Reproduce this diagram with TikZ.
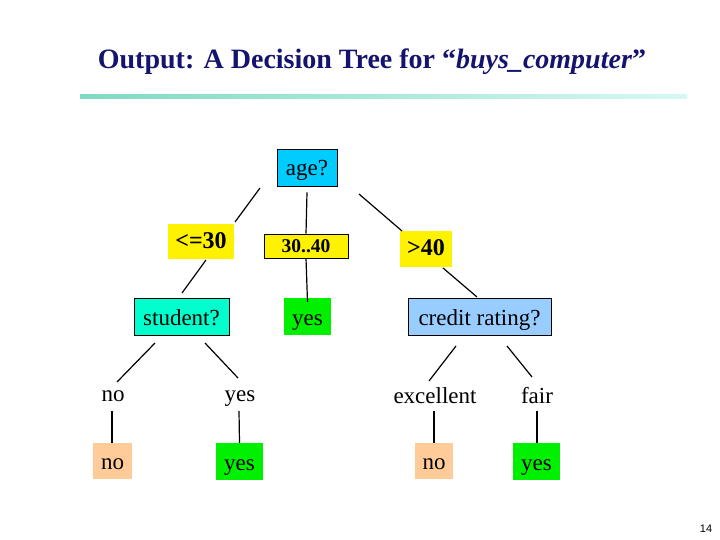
\documentclass[tikz,border=0pt]{standalone}
\usepackage{fontspec}
\setmainfont{Liberation Serif}
\setsansfont{Liberation Sans}
\usetikzlibrary{calc}
\definecolor{titleblue}{RGB}{20,20,110}
\definecolor{ageblue}{RGB}{0,204,255}
\definecolor{studgreen}{RGB}{0,255,204}
\definecolor{leafgreen}{RGB}{0,240,0}
\definecolor{creditblue}{RGB}{153,204,255}
\definecolor{peach}{RGB}{255,204,153}
\definecolor{ruleleft}{RGB}{125,218,195}
\definecolor{ruleright}{RGB}{215,248,245}
\tikzset{
  txt/.style={inner sep=0pt, text height=18pt, text depth=1pt, font=\fontsize{23}{26}\selectfont},
  box/.style={txt, draw=black, line width=0.9pt},
  flatbox/.style={txt},
  cond/.style={fill=yellow, inner sep=0pt, text height=16pt, text depth=3pt, font=\fontsize{24}{27}\selectfont\bfseries},
  lbl/.style={txt},
  conn/.style={line width=1.2pt, black}
}
\begin{document}
\begin{tikzpicture}[x=1pt,y=-1pt]
\useasboundingbox (0,0) rectangle (720,540);
\fill[white] (0,0) rectangle (720,540);
% title
\node[text=titleblue, font=\fontsize{28}{32}\selectfont\bfseries, inner sep=0pt] (title) at (372,62) {Output: A Decision Tree for “\textit{buys\_computer}”};
\shade[left color=ruleleft, right color=ruleright] (80,95) rectangle (687,99);
% nodes
\node[box, fill=ageblue, minimum width=60pt, minimum height=37pt] (age) at (307,167.5) {age?};
\node[cond, minimum width=66pt, minimum height=35pt] (le30) at (201,241.5) {<=30};
\node[cond, draw=black, line width=0.9pt, font=\fontsize{19.5}{22}\selectfont\bfseries, text height=14pt, text depth=2pt, minimum width=84pt, minimum height=24pt] (mid) at (306,246) {30..40};
\node[cond, minimum width=52pt, minimum height=36pt] (gt40) at (426,249) {>40};
\node[box, fill=studgreen, minimum width=95pt, minimum height=37pt] (student) at (181.5,316.5) {student?};
\node[flatbox, fill=leafgreen, minimum width=47pt, minimum height=37pt] (yesmid) at (307.5,316.5) {yes};
\node[box, fill=creditblue, minimum width=143pt, minimum height=37pt] (credit) at (479.5,316.5) {credit rating?};
\node[lbl] (no1) at (113,392.5) {no};
\node[lbl] (yes1) at (240,392.5) {yes};
\node[lbl] (exc) at (435,394.5) {excellent};
\node[lbl] (fair) at (537,394.5) {fair};
\node[flatbox, fill=peach, minimum width=39pt, minimum height=36pt] (leafno1) at (112.5,461) {no};
\node[flatbox, fill=leafgreen, minimum width=47pt, minimum height=37pt] (leafyes1) at (239.5,461.5) {yes};
\node[flatbox, fill=peach, minimum width=38pt, minimum height=36pt] (leafno2) at (434,461) {no};
\node[flatbox, fill=leafgreen, minimum width=47pt, minimum height=37pt] (leafyes2) at (536.5,461.5) {yes};
\node[font=\sffamily\fontsize{11}{13}\selectfont, inner sep=0pt] (pnum) at (706,529) {14};
% connectors
\draw[conn] ($(age)+(-47,20.5)$) -- ($(le30)+(34,-19.5)$);
\draw[conn] ($(age.south)+(0,6)$) -- (mid.north);
\draw[conn] ($(age)+(52,26.5)$) -- ($(gt40)+(-24,-18)$);
\draw[conn] ($(le30)+(5,18.5)$) -- ($(student)+(0.5,-23.5)$);
\draw[conn] (mid.south) -- ($(yesmid.north)+(0,4)$);
\draw[conn] ($(gt40)+(17,19)$) -- ($(credit)+(-2.5,-19.5)$);
\draw[conn] ($(student)+(-26.5,26.5)$) -- ($(no1)+(4,-10.5)$);
\draw[conn] ($(student)+(23.5,26.5)$) -- ($(yes1)+(-2,-14.5)$);
\draw[conn] ($(leafno1.north)+(-0.5,-32)$) -- ($(leafno1.north)+(-0.5,0)$);
\draw[conn] ($(leafyes1.north)+(-0.5,-32)$) -- (leafyes1.north);
\draw[conn] ($(credit)+(-23.5,29.5)$) -- ($(exc)+(-6,-13.5)$);
\draw[conn] ($(credit)+(27.5,29.5)$) -- ($(fair)+(-5,-17.5)$);
\draw[conn] ($(leafno2.north)+(0,-32)$) -- (leafno2.north);
\draw[conn] ($(leafyes2.north)+(0.5,-32)$) -- ($(leafyes2.north)+(0.5,0)$);
\end{tikzpicture}
\end{document}
